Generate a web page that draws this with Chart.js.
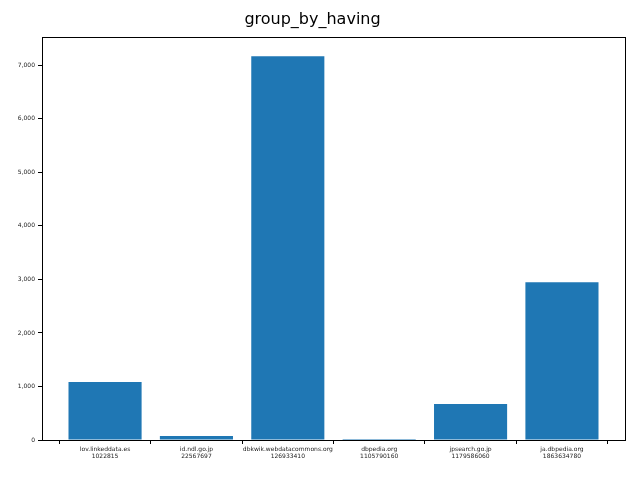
<!DOCTYPE html>
<html>
<head>
<meta charset="utf-8">
<script src="https://cdn.jsdelivr.net/npm/chart.js@4"></script>
<style>html,body{margin:0;padding:0;background:#fff}#c{display:block}</style>
</head>
<body>
<canvas id="c" width="640" height="480"></canvas>
<script>
const hosts = ['lov.linkeddata.es','id.ndl.go.jp','dbkwik.webdatacommons.org','dbpedia.org','jpsearch.go.jp','ja.dbpedia.org'];
const ids = ['1022815','22567697','126933410','1105790160','1179586060','1863634780'];
const values = [1083, 75, 7168, 2, 672, 2949];
const yTicks = [0,1000,2000,3000,4000,5000,6000,7000];

const framePlugin = {
  id: 'frame',
  afterDraw(c) {
    const a = c.chartArea, ctx = c.ctx;
    ctx.save();
    ctx.strokeStyle = '#000'; ctx.lineWidth = 1;
    ctx.strokeRect(Math.round(a.left)+0.5, Math.round(a.top)+0.5, Math.round(a.right-a.left), Math.round(a.bottom-a.top));
    ctx.restore();
  }
};

new Chart(document.getElementById('c'), {
  type: 'bar',
  data: { datasets: [{ data: values.map((v,i)=>({x:i,y:v})), backgroundColor:'#1f77b4', barPercentage:0.8, categoryPercentage:1 }] },
  options: {
    responsive:false, animation:false,
    layout:{ padding:{ left:0, right:15, top:0, bottom:0 } },
    plugins:{ legend:{display:false}, tooltip:{enabled:false},
      title:{ display:true, text:'group_by_having', color:'#000', font:{family:'DejaVu Sans', size:16, weight:'normal'}, padding:{top:10,bottom:8} } },
    scales:{
      x:{ type:'linear', min:-0.69, max:5.69, offset:false,
        afterBuildTicks(s){ s.ticks = hosts.map((h,i)=>({value:i})); },
        afterFit(s){ s.height = 40; },
        grid:{ drawOnChartArea:false, tickLength:4, color:'#000' }, border:{color:'#000'},
        ticks:{ autoSkip:false, maxRotation:0, color:'#222', font:{family:'DejaVu Sans', size:6}, padding:2,
          callback:(v)=>[hosts[v], ids[v]] } },
      y:{ min:0, max:7525,
        afterBuildTicks(s){ s.ticks = yTicks.map(v=>({value:v})); },
        afterFit(s){ s.width = 42; },
        grid:{ drawOnChartArea:false, tickLength:4, color:'#000' }, border:{color:'#000'},
        ticks:{ color:'#222', font:{family:'DejaVu Sans', size:6}, padding:3 } }
    }
  },
  plugins:[framePlugin]
});
</script>
</body>
</html>
